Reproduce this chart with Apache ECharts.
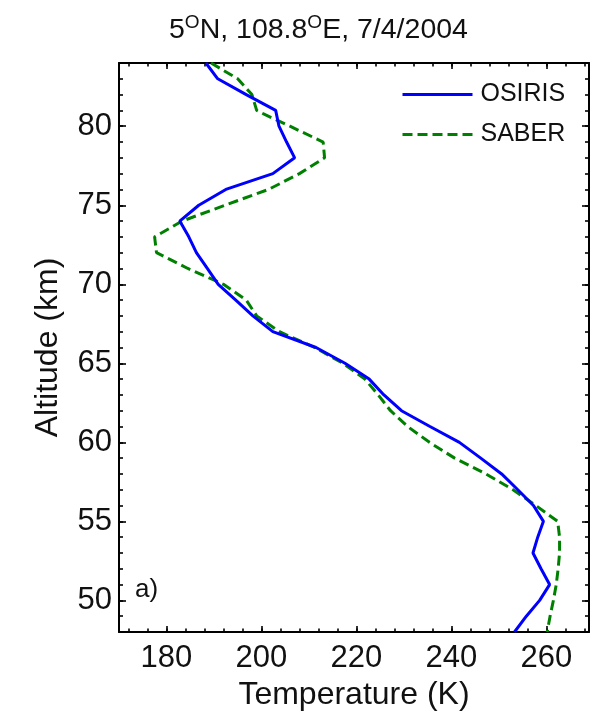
<!DOCTYPE html>
<html><head><meta charset="utf-8">
<script src="https://cdn.jsdelivr.net/npm/echarts@6/dist/echarts.min.js"></script>
<style>html,body{margin:0;padding:0;background:#fff}#c{width:590px;height:714px}</style>
</head><body><div id="c"></div>
<script>
// ---- data (altitude km, temperature K) ----
const osirisAlt  = [84, 83, 82, 81, 80, 79, 78, 77, 76, 75, 74, 73, 72, 71, 70, 69, 68, 67, 66, 65, 64, 63, 62, 61, 60, 59, 58, 57, 56, 55, 54, 53, 52, 51, 50, 49, 48];
const osirisTemp = [188.3, 190.8, 196.8, 203.0, 203.7, 205.3, 207.0, 202.4, 192.5, 186.8, 182.8, 184.7, 186.3, 188.6, 190.9, 194.6, 198.2, 202.4, 211.5, 217.6, 222.7, 225.8, 229.5, 235.5, 241.7, 246.2, 250.6, 254.0, 257.3, 259.4, 258.2, 257.2, 258.9, 260.7, 258.6, 255.8, 253.3];
const saberAlt   = [84, 83, 82, 81, 80.7, 80, 79, 78, 77, 76, 75, 74, 73, 72, 71, 70, 69, 68, 67, 66, 65, 64, 63, 62, 61, 60, 59, 58, 57, 56, 55, 54, 53, 52, 51, 50, 49, 48];
const saberTemp  = [189.4, 195.0, 198.0, 199.0, 201.0, 206.0, 213.0, 213.3, 208.0, 201.5, 192.3, 183.3, 177.5, 177.9, 184.5, 192.0, 196.8, 199.0, 203.8, 211.2, 217.2, 221.8, 224.6, 227.2, 230.8, 235.4, 240.7, 247.3, 253.0, 257.8, 262.4, 262.8, 262.8, 262.5, 262.1, 261.5, 260.8, 260.2];
const seriesNames = ['OSIRIS', 'SABER'];
const xMajorTicks = [180, 200, 220, 240, 260];
const yMajorTicks = [50, 55, 60, 65, 70, 75, 80];
const X_MIN = 170, X_MAX = 269, Y_MIN = 48, Y_MAX = 84;

const xMinorTicks = [];
for (let v = 172; v < X_MAX; v += 4) xMinorTicks.push(v);
const yMinorTicks = [];
for (let v = Y_MIN + 1; v < Y_MAX; v += 1) yMinorTicks.push(v);

const FONT = 'Liberation Sans, Arial, Helvetica, sans-serif';
const INK = '#111';

function pairs(xs, ys) { return xs.map((t, i) => [t, ys[i]]); }

function axis(kind, position, ticks, len, opts) {
  const a = {
    type: 'value', position: position,
    min: kind === 'x' ? X_MIN : Y_MIN,
    max: kind === 'x' ? X_MAX : Y_MAX,
    axisLine: { show: !!opts.line, onZero: false, lineStyle: { color: '#000', width: 2 } },
    axisTick: { show: true, inside: true, length: len, customValues: ticks, lineStyle: { color: '#000', width: 1.6 } },
    axisLabel: { show: false },
    splitLine: { show: false },
    minorTick: { show: false }
  };
  if (opts.labels) {
    a.axisLabel = { show: true, customValues: ticks, fontSize: 31, color: INK, fontFamily: FONT, margin: opts.margin };
  }
  if (opts.name) {
    a.name = opts.name;
    a.nameLocation = 'middle';
    a.nameGap = opts.nameGap;
    a.nameTextStyle = { fontSize: 32, color: INK, fontFamily: FONT };
  }
  return a;
}

const chart = echarts.init(document.getElementById('c'), null, { renderer: 'canvas' });
chart.setOption({
  animation: false,
  backgroundColor: '#fff',
  title: {
    text: '{n|5}{s|O}{n|N, 108.8}{s|O}{n|E, 7/4/2004}',
    left: 164, top: 8,
    textStyle: {
      fontWeight: 'normal',
      rich: {
        n: { fontSize: 28.5, color: INK, fontFamily: FONT, fontWeight: 'normal', lineHeight: 34 },
        s: { fontSize: 19, color: INK, fontFamily: FONT, fontWeight: 'normal', verticalAlign: 'top', lineHeight: 20 }
      }
    }
  },
  grid: { left: 119, right: 1, top: 63, bottom: 82, containLabel: false, outerBoundsMode: 'none' },
  legend: {
    data: seriesNames, orient: 'vertical', left: 401, top: 82,
    itemWidth: 70, itemHeight: 14, itemGap: 15, padding: 0,
    itemStyle: { opacity: 0 },
    lineStyle: { width: 3, opacity: 1 },
    textStyle: { fontSize: 25, color: INK, fontFamily: FONT, padding: [0, 0, 0, 3] }
  },
  xAxis: [
    axis('x', 'bottom', xMajorTicks, 6, { line: true, labels: true, margin: 11, name: 'Temperature (K)', nameGap: 46 }),
    axis('x', 'bottom', xMinorTicks, 3.5, {}),
    axis('x', 'top', xMajorTicks, 6, { line: true }),
    axis('x', 'top', xMinorTicks, 3.5, {})
  ],
  yAxis: [
    axis('y', 'left', yMajorTicks, 7, { line: true, labels: true, margin: 7, name: 'Altitude (km)', nameGap: 55 }),
    axis('y', 'left', yMinorTicks, 4, {}),
    axis('y', 'right', yMajorTicks, 7, { line: true }),
    axis('y', 'right', yMinorTicks, 4, {})
  ],
  graphic: [
    { type: 'text', left: 135, top: 577, style: { text: 'a)', fontSize: 26, fill: INK, fontFamily: FONT } }
  ],
  series: [
    {
      name: seriesNames[0], type: 'line', xAxisIndex: 0, yAxisIndex: 0,
      data: pairs(osirisTemp, osirisAlt), symbol: 'none', showSymbol: false,
      lineStyle: { color: '#0000ff', width: 3 }, itemStyle: { color: '#0000ff' }, z: 3
    },
    {
      name: seriesNames[1], type: 'line', xAxisIndex: 0, yAxisIndex: 0,
      data: pairs(saberTemp, saberAlt), symbol: 'none', showSymbol: false,
      lineStyle: { color: '#008000', width: 3, type: [10, 5] }, itemStyle: { color: '#008000' }, z: 2
    }
  ]
});
</script>
</body></html>
